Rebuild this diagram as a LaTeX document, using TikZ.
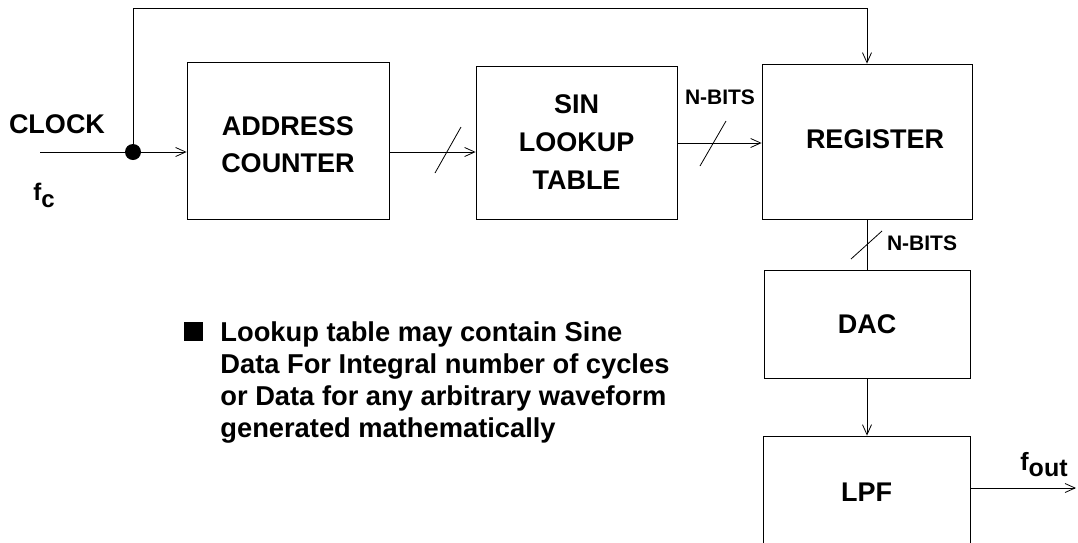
\documentclass[tikz,border=0pt]{standalone}
\usepackage{fontspec}
\setmainfont{Liberation Sans}
\usetikzlibrary{arrows.meta}
\usetikzlibrary{positioning}

\begin{document}
\begin{tikzpicture}[x=1pt, y=-1pt, line width=0.8pt,
    >={Straight Barb[length=10pt, width=9pt]},
    block/.style={draw, inner sep=0pt, align=center, font=\fontsize{27}{38}\selectfont\bfseries},
    lbl/.style={inner sep=0pt, font=\fontsize{27}{32}\selectfont\bfseries},
    bits/.style={inner sep=0pt, font=\fontsize{21}{24}\selectfont\bfseries}]
    \useasboundingbox (0,0) rectangle (1078,542);
    \clip (0,0) rectangle (1078,542);

    % Define blocks
    \node[block, minimum width=202, minimum height=157] (addr) at (288,140.5) {};
    \node[block, minimum width=201, minimum height=153] (sin) at (576.5,142.5) {SIN\\LOOKUP\\TABLE};
    \node[block, minimum width=210, minimum height=155] (reg) at (867,141.5) {};
    \node[block, minimum width=206, minimum height=108] (dac) at (867,324) {DAC};
    \node[block, minimum width=207, minimum height=136] (lpf) at (867,504) {};
    \node[lbl, align=center] (addrtxt) at (288,144.5) {ADDRESS\\[5pt]COUNTER};
    \node[lbl] (regtxt) at (875,139) {REGISTER};
    \node[lbl] (lpftxt) at (866.5,492) {LPF};

    % Define points
    \coordinate (clkin) at (40,152);
    \node[circle, fill, inner sep=0pt, minimum size=16] (dot) at (133,152) {};
    \coordinate (topl) at (133,8);
    \coordinate (topr) at (867,8);
    \coordinate (bus) at (700,143);
    \coordinate (out) at (1076,488);

    % Draw connectors
    \draw (clkin) -- (dot);
    \draw[->] (dot) -- (addr.west |- dot);
    \draw[->] (dot) -- (topl) -- (topr) -- (reg.north);
    \draw[->] (addr.east |- dot) -- (sin.west |- dot);
    \draw[->] (sin.east |- bus) -- (reg.west |- bus);
    \draw (reg.south) -- (dac.north);
    \draw[->] (dac.south) -- (lpf.north);
    \draw[->] (lpf.east |- out) -- (out);

    % Bus width marks
    \draw (435,173) -- (461,127);
    \draw (700,166) -- (726,121);
    \draw (851,259) -- (882,231);

    % Labels
    \node[lbl] (clock) at (57,124) {CLOCK};
    \node[lbl, anchor=base west, font=\fontsize{24}{28}\selectfont\bfseries] (fc) at (33,200) {f\raisebox{-7pt}{c}};
    \node[lbl, anchor=base west, font=\fontsize{25}{28}\selectfont\bfseries] (fout) at (1020,470) {f\raisebox{-6pt}{out}};
    \node[bits] (nbits1) at (720,97) {N-BITS};
    \node[bits] (nbits2) at (922,243) {N-BITS};

    % Note
    \node[fill, inner sep=0pt, minimum size=19] (bullet) at (193,331.5) {};
    \node[lbl, anchor=north west, align=left, font=\fontsize{27.3}{32}\selectfont\bfseries] (note) at (220,321) {Lookup table may contain Sine\\Data For Integral number of cycles\\or Data for any arbitrary waveform\\generated mathematically};
\end{tikzpicture}
\end{document}
